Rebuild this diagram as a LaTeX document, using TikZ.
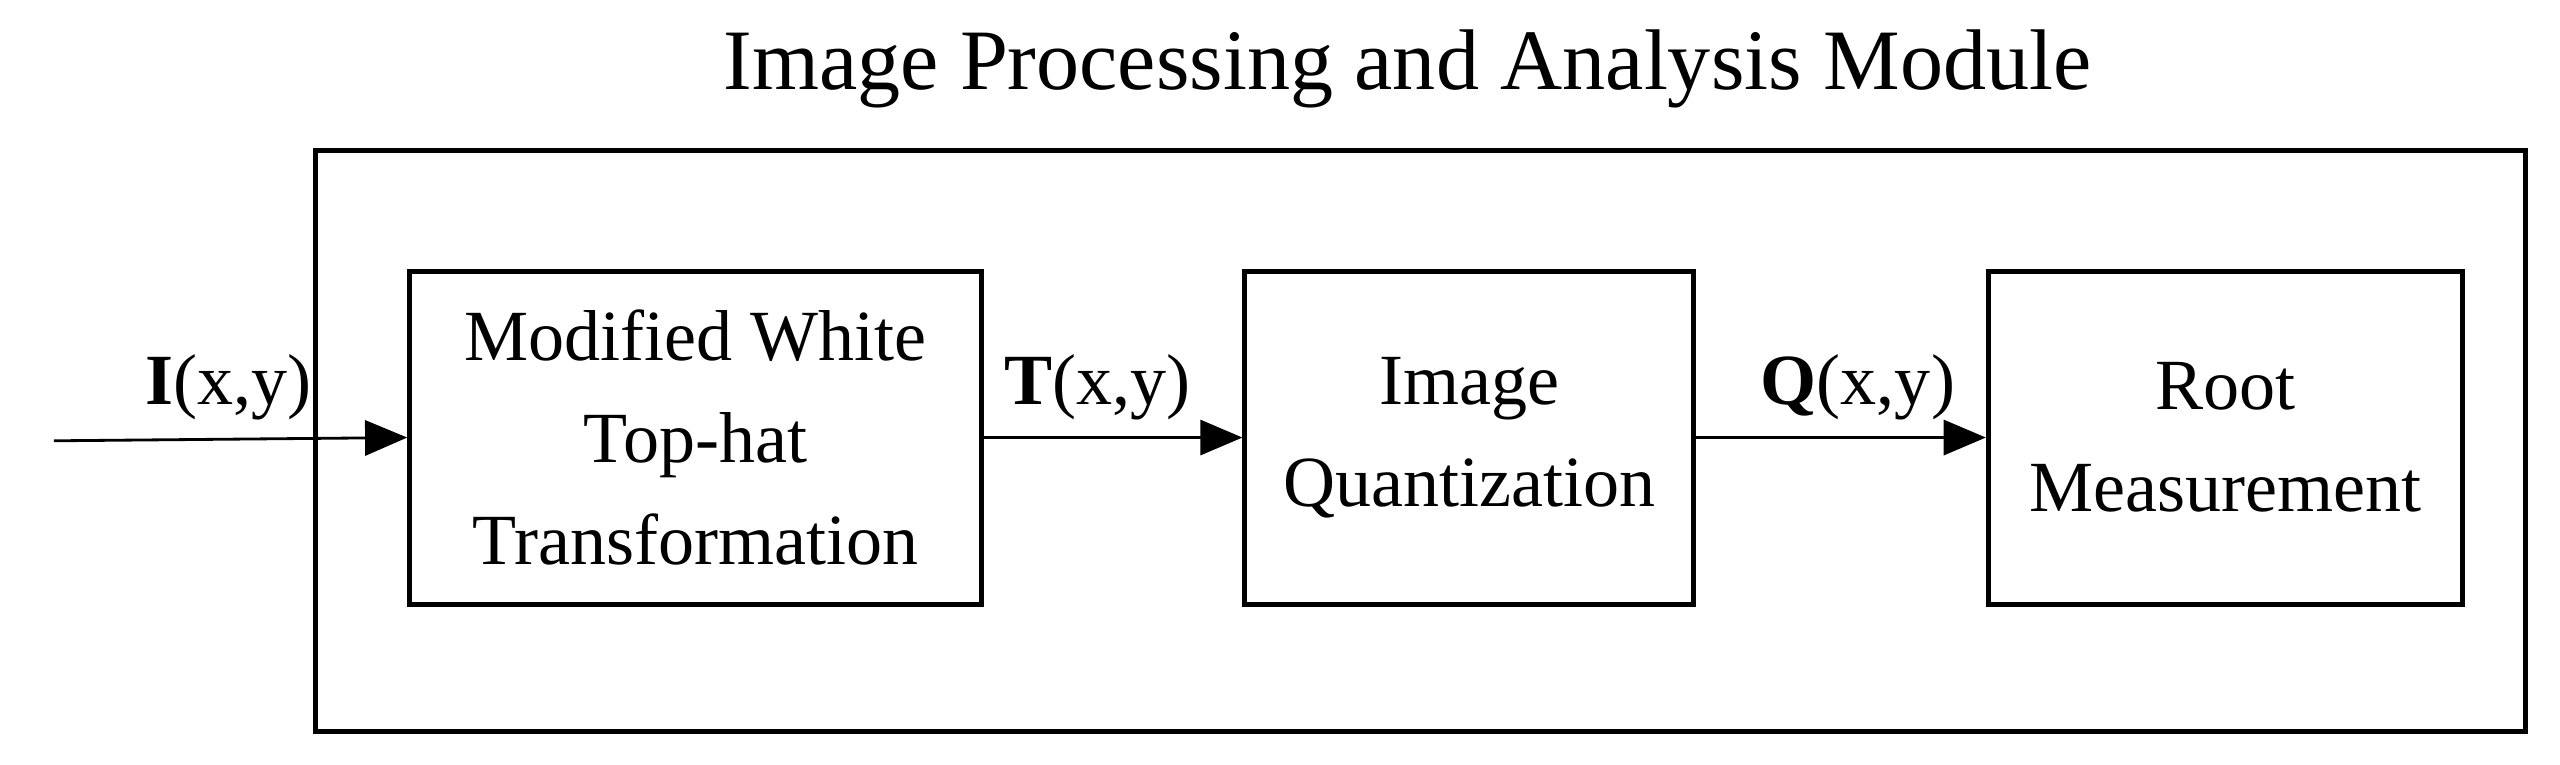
\documentclass[tikz,border=0pt]{standalone}
\usepackage{fontspec}
\setmainfont{Liberation Serif}
\usetikzlibrary{arrows.meta}
\begin{document}
\begin{tikzpicture}[x=0.01633cm,y=-0.01633cm,
  blk/.style={draw,line width=1.4pt,align=center,font=\fontsize{20.5}{29}\selectfont,inner sep=0pt},
  lbl/.style={font=\fontsize{20.5}{24}\selectfont},
  arr/.style={line width=0.8pt,-{Triangle[length=12pt,width=10pt]}}]
\useasboundingbox (0,0) rectangle (1568,468);
\draw[line width=1.4pt] (193,92) rectangle (1547,448);
\node[font=\fontsize{24.5}{28}\selectfont] (title) at (862,42) {Image Processing and Analysis Module};
\node[blk,minimum width=5.716cm,minimum height=3.33cm] (b1) at (426,268) {Modified White\\Top-hat\\Transformation};
\node[blk,minimum width=4.49cm,minimum height=3.33cm] (b2) at (900,268) {Image\\Quantization};
\node[blk,minimum width=4.74cm,minimum height=3.33cm] (b3) at (1363,268) {Root\\Measurement};
\coordinate (in) at (33,270);
\draw[arr] (in) -- (b1.west);
\draw[arr] (b1.east) -- (b2.west);
\draw[arr] (b2.east) -- (b3.west);
\node[lbl] (l1) at (140,237) {\textbf{I}(x,y)};
\node[lbl] (l2) at (672,237) {\textbf{T}(x,y)};
\node[lbl] (l3) at (1138,237) {\textbf{Q}(x,y)};
\end{tikzpicture}
\end{document}
